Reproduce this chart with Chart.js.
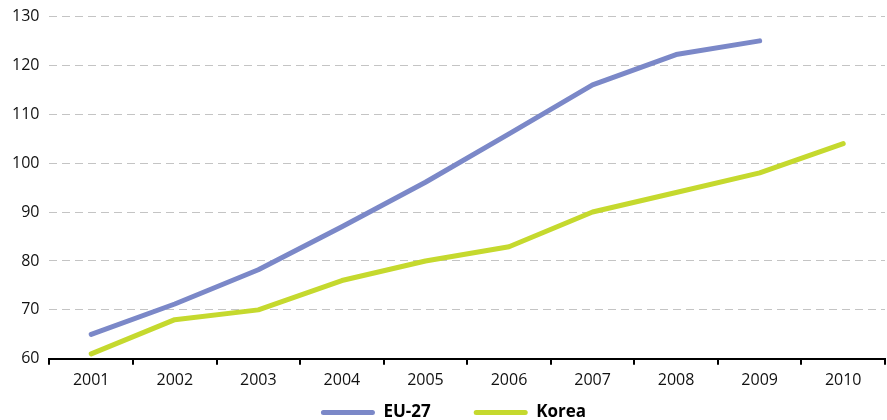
<!DOCTYPE html>
<html><head><meta charset="utf-8">
<script src="https://cdn.jsdelivr.net/npm/chart.js@4/dist/chart.umd.min.js"></script>
<style>html,body{margin:0;padding:0;background:#fff;overflow:hidden}#w{width:887px;height:420px}</style>
</head><body><div id="w"><canvas id="c"></canvas></div>
<script>
const years = ["2001","2002","2003","2004","2005","2006","2007","2008","2009","2010"];
const eu27 = [65, 71.2, 78.2, 87, 96.1, 106, 116, 122.2, 125, null];
const korea = [61, 68, 70, 76, 80, 82.9, 90, 94, 98, 104];
const yTicks = [60, 70, 80, 90, 100, 110, 120, 130];

const LEGEND_H = 24, LEGEND_DY = -35, LEGEND_DX = 10;
const legendFix = {
  id: 'legendFix',
  afterInit(chart) {
    const L = chart.legend;
    if (!L) return;
    const of = L.fit.bind(L);
    L.fit = function () { of(); this.height = LEGEND_H; };
    const od = L.draw.bind(L);
    L.draw = function () {
      const t = this.top, l = this.left, r = this.right;
      this.top = t + LEGEND_DY; this.left = l + LEGEND_DX; this.right = r + LEGEND_DX;
      od();
      this.top = t; this.left = l; this.right = r;
    };
  }
};

Chart.defaults.font.family = "'Open Sans', 'Noto Sans', sans-serif";
Chart.defaults.color = "#111";
new Chart(document.getElementById('c'), {
  type: 'line',
  data: {
    labels: years,
    datasets: [
      {label: 'EU-27', data: eu27, borderColor: '#7b88c8', backgroundColor: '#7b88c8', borderWidth: 5, pointRadius: 0, tension: 0, borderCapStyle: 'round', borderJoinStyle: 'round'},
      {label: 'Korea', data: korea, borderColor: '#c5d92e', backgroundColor: '#c5d92e', borderWidth: 5, pointRadius: 0, tension: 0, borderCapStyle: 'round', borderJoinStyle: 'round'}
    ]
  },
  plugins: [legendFix],
  options: {
    responsive: true, maintainAspectRatio: false, animation: false,
    layout: {padding: {left: 2, right: 2, top: 0, bottom: 0}},
    plugins: {
      tooltip: {enabled: false},
      legend: {
        position: 'bottom',
        labels: {
          boxWidth: 54, boxHeight: 5, padding: 43,
          useBorderRadius: true, borderRadius: 2.5,
          font: {size: 17, weight: 'bold'}, color: '#111',
          generateLabels(chart) {
            return chart.data.datasets.map((d, i) => ({
              text: d.label, fillStyle: d.borderColor, strokeStyle: d.borderColor, lineWidth: 0, datasetIndex: i, borderRadius: 2.5
            }));
          }
        }
      }
    },
    scales: {
      x: {
        offset: true,
        grid: {display: true, drawOnChartArea: false, drawTicks: true, tickLength: 6, color: '#000', lineWidth: 2, offset: true},
        border: {display: true, color: '#000', width: 2},
        ticks: {font: {size: 16}, color: '#111', padding: 6, maxRotation: 0}
      },
      y: {
        min: 60, max: 130,
        afterBuildTicks(axis) { axis.ticks = yTicks.map(v => ({value: v})); },
        grid: {color: '#c4c4c4', lineWidth: 1, drawTicks: false},
        border: {display: false, dash: [8, 5]},
        ticks: {font: {size: 16, lineHeight: 0.8}, color: '#111', padding: 10}
      }
    }
  }
});
</script></body></html>
